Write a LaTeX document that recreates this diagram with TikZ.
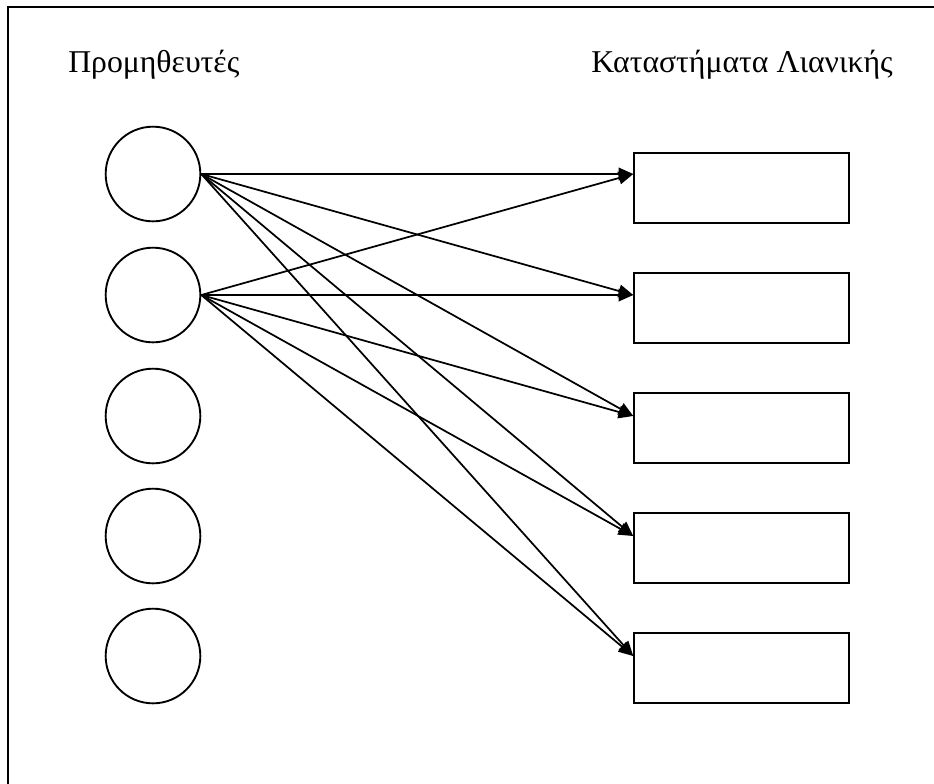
\documentclass[tikz,border=0pt]{standalone}
\usepackage{fontspec}
\setmainfont{Liberation Serif}
\usetikzlibrary{arrows.meta}
\begin{document}
\begin{tikzpicture}[x=0.75pt,y=-0.75pt,
  supplier/.style={circle,draw,line width=1.4pt,minimum size=71pt,inner sep=0pt},
  store/.style={rectangle,draw,line width=1.4pt,minimum width=161pt,minimum height=52.5pt,inner sep=0pt},
  link/.style={line width=1.3pt,-{Triangle[length=11pt,width=9.5pt]}},
  heading/.style={inner sep=0pt,font=\fontsize{23.8}{28}\selectfont}]
\useasboundingbox (0,0) rectangle (934,783);
% open frame along the top and left
\draw[line width=1.5pt] (8,800) -- (8,7) -- (960,7);

\node[heading,anchor=base west] (hs) at (68,72) {Προμηθευτές};
\node[heading,anchor=base east] (hr) at (893,72) {Καταστήματα Λιανικής};

\foreach \i/\y in {1/174,2/295,3/416,4/536,5/656}
  \node[supplier] (c\i) at (153,\y) {};
\foreach \i/\y in {1/188,2/308,3/428,4/548,5/668}
  \node[store] (b\i) at (741.5,\y) {};

% every store is supplied by the first two suppliers
\foreach \s in {1,2}
  \foreach \t in {1,...,5}
    \draw[link] (c\s.east) -- (b\t.west |- c\t);
\end{tikzpicture}
\end{document}
